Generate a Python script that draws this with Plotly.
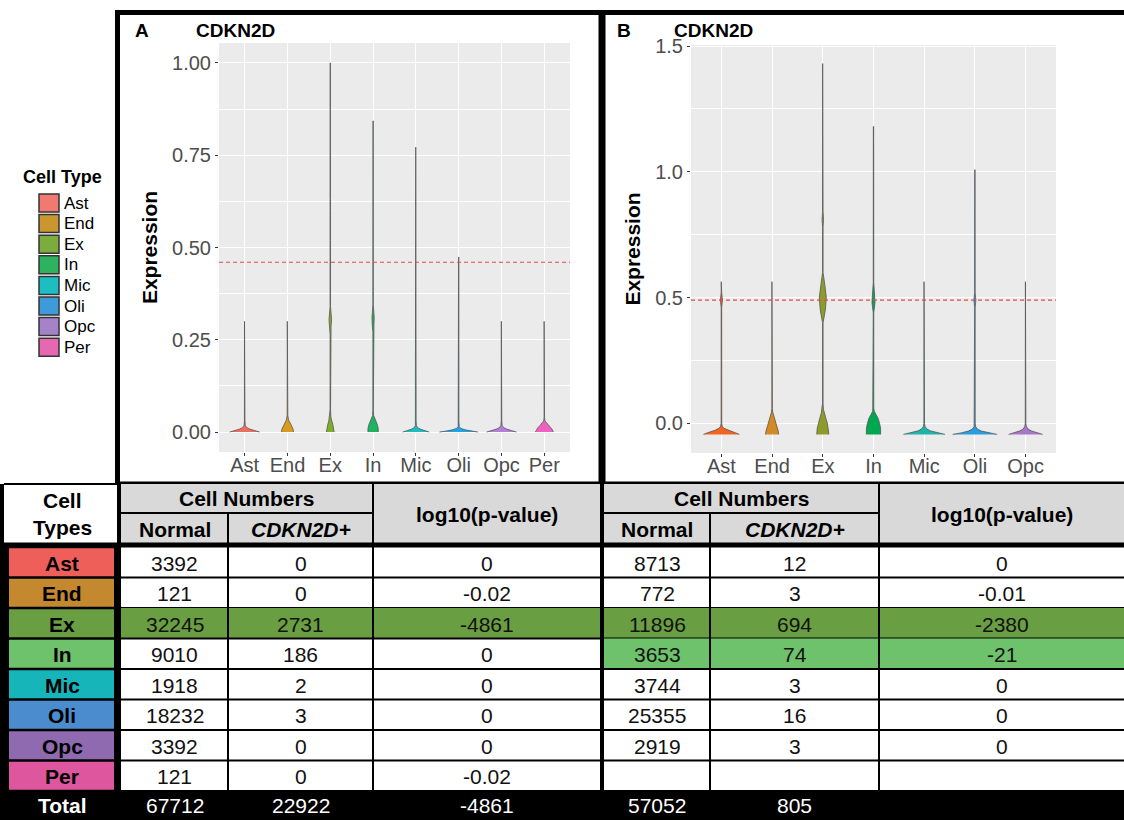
import plotly.graph_objects as go

W, H = 1124, 820

# ---------------- data ----------------
CELL_TYPES_A = ["Ast", "End", "Ex", "In", "Mic", "Oli", "Opc", "Per"]
CELL_TYPES_B = ["Ast", "End", "Ex", "In", "Mic", "Oli", "Opc"]
GENE = "CDKN2D"

LEGEND_COLORS = ["#F07A72", "#C9962F", "#7CAB3E", "#2DB25F", "#1DBEC2", "#3E9AD9", "#A583C9", "#E568B0"]
VIOLIN_COLORS_A = ["#F26B5E", "#D99A1F", "#7DAF2A", "#1DB35F", "#19BEC0", "#1EA5E8", "#B47ED8", "#F060C0"]
VIOLIN_COLORS_B = ["#F2651E", "#D48A22", "#8E9B2A", "#00A84F", "#1DB5A8", "#2A9DE0", "#A876C8"]

# violin outlines: expression levels and half widths (category units)
A_VIOLIN_Y = [
    [0, 0.004, 0.008, 0.012, 0.018, 0.03, 0.30],
    [0, 0.008, 0.016, 0.025, 0.033, 0.045, 0.30],
    [0, 0.01, 0.02, 0.03, 0.04, 0.06, 0.265, 0.285, 0.305, 0.325, 0.34, 0.48, 0.50, 0.52, 0.60, 0.615, 0.63, 1.00],
    [0, 0.01, 0.02, 0.03, 0.038, 0.045, 0.06, 0.27, 0.29, 0.31, 0.33, 0.345, 0.843],
    [0, 0.004, 0.008, 0.012, 0.018, 0.03, 0.772],
    [0, 0.003, 0.006, 0.01, 0.015, 0.03, 0.28, 0.30, 0.32, 0.474],
    [0, 0.004, 0.008, 0.012, 0.018, 0.03, 0.30],
    [0, 0.006, 0.012, 0.018, 0.024, 0.03, 0.04, 0.30],
]
A_VIOLIN_HW = [
    [0.35, 0.22, 0.12, 0.05, 0.015, 0.006, 0.004],
    [0.14, 0.13, 0.10, 0.06, 0.025, 0.008, 0.004],
    [0.09, 0.08, 0.06, 0.035, 0.015, 0.006, 0.005, 0.018, 0.03, 0.016, 0.005, 0.005, 0.01, 0.005, 0.005, 0.01, 0.005, 0.003],
    [0.12, 0.12, 0.10, 0.07, 0.035, 0.012, 0.005, 0.005, 0.02, 0.026, 0.014, 0.005, 0.003],
    [0.31, 0.20, 0.10, 0.04, 0.012, 0.005, 0.004],
    [0.45, 0.28, 0.15, 0.05, 0.012, 0.005, 0.005, 0.015, 0.005, 0.003],
    [0.35, 0.22, 0.12, 0.05, 0.015, 0.006, 0.004],
    [0.21, 0.19, 0.15, 0.10, 0.05, 0.015, 0.005, 0.004],
]
B_VIOLIN_Y = [
    [-0.044, -0.036, -0.028, -0.02, -0.012, 0.0, 0.46, 0.49, 0.52, 0.563],
    [-0.044, -0.03, -0.01, 0.01, 0.03, 0.045, 0.06, 0.563],
    [-0.044, -0.02, 0.0, 0.02, 0.04, 0.056, 0.08, 0.40, 0.45, 0.50, 0.55, 0.60, 0.78, 0.81, 0.84, 1.43],
    [-0.044, -0.02, 0.0, 0.02, 0.035, 0.048, 0.06, 0.44, 0.48, 0.52, 0.56, 1.18],
    [-0.044, -0.037, -0.03, -0.022, -0.012, 0.0, 0.563],
    [-0.044, -0.038, -0.031, -0.023, -0.013, 0.0, 0.46, 0.49, 0.52, 1.008],
    [-0.044, -0.037, -0.03, -0.022, -0.012, 0.0, 0.563],
]
B_VIOLIN_HW = [
    [0.355, 0.25, 0.13, 0.05, 0.015, 0.006, 0.005, 0.02, 0.005, 0.003],
    [0.13, 0.12, 0.09, 0.06, 0.03, 0.012, 0.005, 0.003],
    [0.12, 0.11, 0.09, 0.06, 0.03, 0.012, 0.005, 0.005, 0.05, 0.07, 0.04, 0.005, 0.005, 0.015, 0.005, 0.003],
    [0.14, 0.14, 0.12, 0.09, 0.05, 0.015, 0.005, 0.005, 0.03, 0.018, 0.005, 0.003],
    [0.41, 0.25, 0.12, 0.05, 0.015, 0.006, 0.003],
    [0.44, 0.27, 0.13, 0.05, 0.015, 0.006, 0.005, 0.02, 0.005, 0.003],
    [0.335, 0.22, 0.11, 0.045, 0.015, 0.006, 0.003],
]
A_THRESHOLD = 0.46
B_THRESHOLD = 0.49

A_NORMAL = [3392, 121, 32245, 9010, 1918, 18232, 3392, 121]
A_POSITIVE = [0, 0, 2731, 186, 2, 3, 0, 0]
A_LOGP = ["0", "-0.02", "-4861", "0", "0", "0", "0", "-0.02"]
A_TOTAL = ["67712", "22922", "-4861"]

B_NORMAL = [8713, 772, 11896, 3653, 3744, 25355, 2919]
B_POSITIVE = [12, 3, 694, 74, 3, 16, 3]
B_LOGP = ["0", "-0.01", "-2380", "-21", "0", "0", "0"]
B_TOTAL = ["57052", "805", ""]

ROW_COLORS = ["#EF5F5A", "#C4882F", "#6A9E42", "#6FC26C", "#16B5BA", "#4A8CCD", "#8F6AB0", "#DE569E"]
A_HIGHLIGHT = {"Ex": "#6A9E42"}
B_HIGHLIGHT = {"Ex": "#6A9E42", "In": "#6FC26C"}

FONT = "Arial, Liberation Sans, sans-serif"
TFS = 21  # table font size


def px(x):
    return x / W


def py(y):
    return 1 - y / H


fig = go.Figure()
shapes = []
annots = []


def rect(x0, y0, x1, y1, fill, line_color=None, lw=0):
    shapes.append(dict(type="rect", xref="paper", yref="paper",
                       x0=px(x0), x1=px(x1), y0=py(y1), y1=py(y0),
                       fillcolor=fill, line=dict(width=lw, color=line_color or fill), layer="above"))


def hline(x0, x1, y, w=2, color="black"):
    shapes.append(dict(type="line", xref="paper", yref="paper", x0=px(x0), x1=px(x1),
                       y0=py(y), y1=py(y), line=dict(color=color, width=w), layer="above"))


def vline(x, y0, y1, w=2, color="black"):
    shapes.append(dict(type="line", xref="paper", yref="paper", x0=px(x), x1=px(x),
                       y0=py(y0), y1=py(y1), line=dict(color=color, width=w), layer="above"))


def text(x, y, s, size=TFS, color="black", bold=False, italic=False, anchor="center"):
    if bold:
        s = "<b>" + s + "</b>"
    if italic:
        s = "<i>" + s + "</i>"
    annots.append(dict(xref="paper", yref="paper", x=px(x), y=py(y), text=s, showarrow=False,
                       xanchor=anchor, yanchor="middle",
                       font=dict(family=FONT, size=size, color=color)))


# ---------------- violins ----------------
def add_violins(cats, ys_list, hw_list, colors, xa, ya):
    for i, (ys, hws) in enumerate(zip(ys_list, hw_list)):
        pos = i + 1
        xs = [pos + h for h in hws] + [pos - h for h in reversed(hws)]
        yy = list(ys) + list(reversed(ys))
        fig.add_trace(go.Scatter(x=xs, y=yy, fill="toself", fillcolor=colors[i], mode="lines",
                                 line=dict(color="#555555", width=0.8), xaxis=xa, yaxis=ya,
                                 showlegend=False, hoverinfo="skip"))


add_violins(CELL_TYPES_A, A_VIOLIN_Y, A_VIOLIN_HW, VIOLIN_COLORS_A, "x", "y")
add_violins(CELL_TYPES_B, B_VIOLIN_Y, B_VIOLIN_HW, VIOLIN_COLORS_B, "x2", "y2")

axis_common = dict(showline=False, zeroline=False, ticks="outside", ticklen=3, tickcolor="#333333",
                   tickfont=dict(family=FONT, size=20, color="#4D4D4D"), gridcolor="white", gridwidth=1.2,
                   automargin=False)

fig.update_layout(
    width=W, height=H, margin=dict(l=0, r=0, t=0, b=0, pad=0), autosize=False,
    paper_bgcolor="white", plot_bgcolor="#EBEBEB", showlegend=False,
    xaxis=dict(domain=[px(219), px(570)], range=[0.4, len(CELL_TYPES_A) + 0.6],
               tickvals=list(range(1, len(CELL_TYPES_A) + 1)), ticktext=CELL_TYPES_A, anchor="y",
               ticklabelstandoff=-8, **axis_common),
    yaxis=dict(domain=[py(452), py(43)], range=[-0.054, 1.054], tickvals=[0, 0.25, 0.5, 0.75, 1.0],
               tickformat=".2f", anchor="x",
               minor=dict(tickvals=[0.125, 0.375, 0.625, 0.875], showgrid=True, gridcolor="white",
                          gridwidth=0.6, ticks=""),
               title=dict(text="<b>Expression</b>", font=dict(family=FONT, size=21, color="black"),
                          standoff=8),
               **axis_common),
    xaxis2=dict(domain=[px(691), px(1056)], range=[0.4, len(CELL_TYPES_B) + 0.6],
                tickvals=list(range(1, len(CELL_TYPES_B) + 1)), ticktext=CELL_TYPES_B, anchor="y2",
                ticklabelstandoff=-8, **axis_common),
    yaxis2=dict(domain=[py(453), py(45)], range=[-0.118, 1.504], tickvals=[0, 0.5, 1.0, 1.5],
                tickformat=".1f", anchor="x2",
                minor=dict(tickvals=[0.25, 0.75, 1.25], showgrid=True, gridcolor="white",
                           gridwidth=0.6, ticks=""),
                title=dict(text="<b>Expression</b>", font=dict(family=FONT, size=21, color="black"),
                           standoff=8),
                **axis_common),
)

# threshold lines
for xr, yr, thr in (("x domain", "y", A_THRESHOLD), ("x2 domain", "y2", B_THRESHOLD)):
    shapes.append(dict(type="line", xref=xr, yref=yr, x0=0, x1=1, y0=thr, y1=thr,
                       line=dict(color="#E8474B", width=1.2, dash="4px,3px"), layer="above"))

# panel frames and titles
shapes.append(dict(type="rect", xref="paper", yref="paper", x0=px(117.5), x1=px(601), y0=py(484), y1=py(12.5),
                   line=dict(color="black", width=5), fillcolor="rgba(0,0,0,0)", layer="above"))
shapes.append(dict(type="rect", xref="paper", yref="paper", x0=px(603), x1=px(1135), y0=py(484), y1=py(12.5),
                   line=dict(color="black", width=5), fillcolor="rgba(0,0,0,0)", layer="above"))
text(133, 30, "A", size=19, bold=True, anchor="left")
text(194, 30, GENE, size=19, bold=True, anchor="left")
text(615, 30, "B", size=19, bold=True, anchor="left")
text(672, 30, GENE, size=19, bold=True, anchor="left")

# legend
text(62, 177, "Cell Type", size=18, bold=True)
for i, (name, col) in enumerate(zip(CELL_TYPES_A, LEGEND_COLORS)):
    yc = 203 + i * 20.6
    rect(39, yc - 9, 59, yc + 9, col, "#333333", 1.5)
    text(62, yc, name, size=17, anchor="left")

# ---------------- table ----------------
ROW_TOP = 547
ROW_H = 30.5
COLS_A = [121, 228, 373, 601]
COLS_B = [604, 710, 879, 1124]
n_rows = len(CELL_TYPES_A)
tbl_bottom = ROW_TOP + n_rows * ROW_H

# headers
rect(4, 484, 117, 543, "white")
text(62, 500, "Cell", bold=True)
text(62, 527, "Types", bold=True)
for cols in (COLS_A, COLS_B):
    rect(cols[0], 484, cols[2], 513, "#D9D9D9")
    rect(cols[0], 513, cols[1], 543, "#D9D9D9")
    rect(cols[1], 513, cols[2], 543, "#D9D9D9")
    rect(cols[2], 484, cols[3], 543, "#D9D9D9")
    text((cols[0] + cols[2]) / 2, 498, "Cell Numbers", bold=True)
    text((cols[0] + cols[1]) / 2, 529, "Normal", bold=True)
    text((cols[1] + cols[2]) / 2, 529, GENE + "+", bold=True, italic=True)
    text((cols[2] + cols[3]) / 2, 514, "log10(p-value)", bold=True)
    hline(cols[0], cols[2], 513, 2)
    vline(cols[1], 513, 543, 2)
    vline(cols[2], 484, 543, 2)
hline(4, 117, 484, 2)

# row label column
rect(2, 543, 121, tbl_bottom, "black")
for i, (name, col) in enumerate(zip(CELL_TYPES_A, ROW_COLORS)):
    y0 = ROW_TOP + i * ROW_H
    rect(9, y0 + 1.2, 114, y0 + ROW_H - 1.2, col)
    text(62, y0 + ROW_H / 2 + 1, name, bold=True)


# data rows
def data_block(cols, normal, pos, logp, highlight, cats):
    for i in range(n_rows):
        y0 = ROW_TOP + i * ROW_H
        if i < len(cats) and cats[i] in highlight:
            rect(cols[0], y0, cols[3], y0 + ROW_H, highlight[cats[i]])
        if i < len(normal):
            yc = y0 + ROW_H / 2 + 1
            text((cols[0] + cols[1]) / 2, yc, str(normal[i]), color="#111111")
            text((cols[1] + cols[2]) / 2, yc, str(pos[i]), color="#111111")
            text((cols[2] + cols[3]) / 2, yc, logp[i], color="#111111")
        hline(cols[0], cols[3], y0 + ROW_H, 2)
    vline(cols[1], 543, tbl_bottom, 2)
    vline(cols[2], 543, tbl_bottom, 2)


data_block(COLS_A, A_NORMAL, A_POSITIVE, A_LOGP, A_HIGHLIGHT, CELL_TYPES_A)
data_block(COLS_B, B_NORMAL, B_POSITIVE, B_LOGP, B_HIGHLIGHT, CELL_TYPES_B)

# thick separators
hline(0, W, 545, 5)
vline(119, 484, tbl_bottom, 4)
vline(602, 484, tbl_bottom, 4)
vline(2, 484, tbl_bottom, 4)

# total row
rect(0, tbl_bottom, W, H, "black")
yt = tbl_bottom + (H - tbl_bottom) / 2
text(62, yt, "Total", bold=True, color="white")
for cols, tot in ((COLS_A, A_TOTAL), (COLS_B, B_TOTAL)):
    text((cols[0] + cols[1]) / 2, yt, tot[0], color="white")
    text((cols[1] + cols[2]) / 2, yt, tot[1], color="white")
    if tot[2]:
        text((cols[2] + cols[3]) / 2, yt, tot[2], color="white")

fig.update_layout(shapes=shapes, annotations=annots)
fig.write_html("out.html", config={"displayModeBar": False},
               post_script="document.body.style.margin='0';document.body.style.padding='0';"
                           "document.body.style.overflow='hidden';")
